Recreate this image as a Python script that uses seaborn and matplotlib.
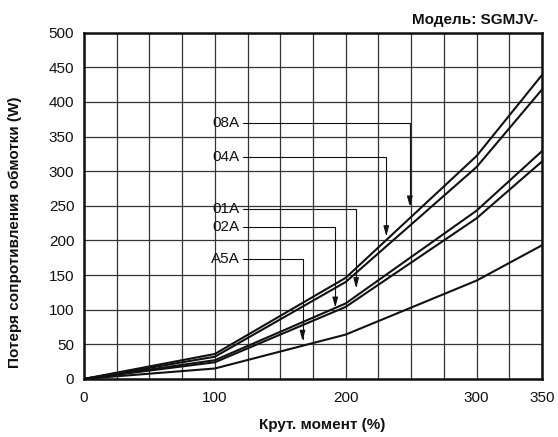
import matplotlib
matplotlib.use("Agg")
import matplotlib.pyplot as plt
import seaborn as sns
import pandas as pd

# torque (%) and winding resistance loss (W) per model
torque = [0, 100, 200, 300, 350]
loss_08A = [0, 36, 146, 322, 439]
loss_04A = [0, 32, 140, 306, 418]
loss_01A = [0, 27, 109, 243, 329]
loss_02A = [0, 24, 104, 232, 314]
loss_A5A = [0, 15, 64, 142, 193]

models = ["08A", "04A", "01A", "02A", "A5A"]
series = [loss_08A, loss_04A, loss_01A, loss_02A, loss_A5A]
x_ticks = [0, 100, 200, 300, 350]

# label text position and arrow target for each model
label_xy = {"08A": (119, 369), "04A": (119, 320), "01A": (119, 246),
            "02A": (119, 219), "A5A": (119, 173)}
arrow_xy = {"08A": (249, 249), "04A": (231, 206), "01A": (208, 131),
            "02A": (192, 103), "A5A": (167, 55)}

rows = []
for m, vals in zip(models, series):
    for t, v in zip(torque, vals):
        rows.append({"Model": m, "Torque": t, "Loss": v})
df = pd.DataFrame(rows)

sns.set_style("white")
plt.rcParams["font.family"] = ["Liberation Sans", "DejaVu Sans"]

fig = plt.figure(figsize=(5.58, 4.37), dpi=100)
ax = fig.add_axes([0.1505, 0.133, 0.8208, 0.792])

sns.lineplot(data=df, x="Torque", y="Loss", units="Model", estimator=None,
             color="#111111", linewidth=1.5, ax=ax, legend=False)

ax.set_xlim(0, 350)
ax.set_ylim(0, 500)
ax.set_xticks(x_ticks)
ax.set_xticks(range(0, 351, 25), minor=True)
ax.set_yticks(range(0, 501, 50))
ax.grid(True, which="both", axis="x", color="#333333", linewidth=0.9)
ax.grid(True, which="major", axis="y", color="#333333", linewidth=0.9)
ax.tick_params(which="both", length=0, labelsize=11, colors="#111111")
ax.tick_params(axis="x", pad=9)
ax.tick_params(axis="y", pad=7)
for s in ax.spines.values():
    s.set_visible(True)
    s.set_color("#111111")
    s.set_linewidth(1.8)

for m in models:
    ax.annotate(m, xy=arrow_xy[m], xytext=label_xy[m], ha="right", va="center",
                fontsize=11, color="#111111",
                arrowprops=dict(arrowstyle="-|>,head_length=0.55,head_width=0.15",
                                connectionstyle="angle,angleA=0,angleB=90,rad=0",
                                color="#111111", lw=0.8, shrinkA=0, shrinkB=0))

ax.set_xlabel("Крут. момент (%)", fontsize=11, fontweight="bold", color="#111111")
ax.set_ylabel("Потеря сопротивления обмотки (W)", fontsize=11, fontweight="bold",
              color="#111111")
ax.xaxis.set_label_coords(0.52, -0.133)
ax.yaxis.set_label_coords(-0.151, 0.425)
ax.xaxis.label.set_va("center")
ax.yaxis.label.set_va("center")
fig.text(0.964, 0.954, "Модель: SGMJV-", ha="right", va="center", fontsize=11,
         fontweight="bold", color="#111111")

fig.savefig("out.png", dpi=100)
